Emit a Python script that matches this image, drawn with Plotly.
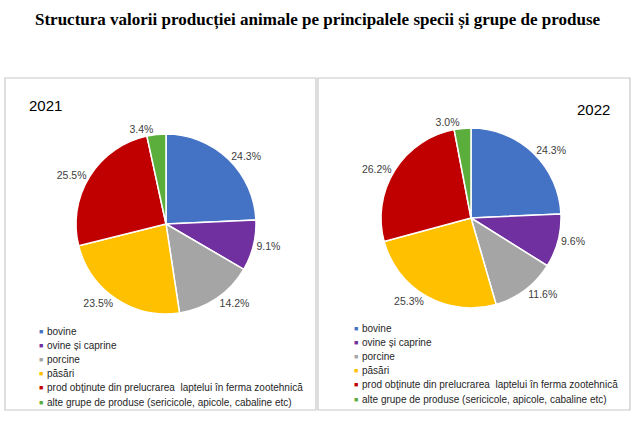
import plotly.graph_objects as go

# categories and shares (%)
categories = [
    'bovine',
    'ovine și caprine',
    'porcine',
    'păsări',
    'prod obţinute din prelucrarea  laptelui în ferma zootehnică',
    'alte grupe de produse (sericicole, apicole, cabaline etc)',
]
shares_2021 = [24.3, 9.1, 14.2, 23.5, 25.5, 3.4]
shares_2022 = [24.3, 9.6, 11.6, 25.3, 26.2, 3.0]
years = ['2021', '2022']

colors = ['#4472C4', '#7030A0', '#A5A5A5', '#FFC000', '#C00000', '#5BAE3C']

W, H = 635, 423
SANS = 'Liberation Sans, Arial, sans-serif'


def px_x(v):
    return v / W


def px_y(v):
    return 1 - v / H


def pie(values, x_px, y_px):
    # x_px / y_px: pixel extents of the pie domain
    return go.Pie(
        labels=categories,
        values=values,
        sort=False,
        direction='clockwise',
        rotation=0,
        marker=dict(colors=colors, line=dict(color='white', width=1.5)),
        texttemplate='%{value:.1f}%',
        textposition='outside',
        textfont=dict(family=SANS, size=10.5, color='#404040'),
        showlegend=False,
        hoverinfo='label+value',
        domain=dict(x=[px_x(x_px[0]), px_x(x_px[1])],
                    y=[px_y(y_px[1]), px_y(y_px[0])]),
    )


fig = go.Figure()
fig.add_trace(pie(shares_2021, (76, 256), (134, 314)))
fig.add_trace(pie(shares_2022, (381, 561), (128, 308)))

annotations = [
    dict(text='<b>Structura valorii producției animale pe principalele specii și grupe de produse</b>',
         x=0.5, y=px_y(20), xref='paper', yref='paper', yanchor='middle', showarrow=False,
         font=dict(family='Liberation Serif, Times New Roman, serif', size=17, color='black')),
    dict(text=years[0], x=px_x(27), y=px_y(105), xref='paper', yref='paper',
         xanchor='left', yanchor='middle', showarrow=False,
         font=dict(family=SANS, size=15, color='black')),
    dict(text=years[1], x=px_x(612), y=px_y(109), xref='paper', yref='paper',
         xanchor='right', yanchor='middle', showarrow=False,
         font=dict(family=SANS, size=15, color='black')),
]

# legend drawn by hand (plotly legend rows are too tall), one per panel
for left, first_row in [(37, 331), (352, 328)]:
    for i, (c, lbl) in enumerate(zip(colors, categories)):
        y = px_y(first_row + i * 14.2)
        annotations.append(dict(
            text='■', x=px_x(left), y=y, xref='paper', yref='paper',
            xanchor='left', yanchor='middle', showarrow=False,
            font=dict(family=SANS, size=7, color=c),
        ))
        annotations.append(dict(
            text=lbl, x=px_x(left + 8), y=y, xref='paper', yref='paper',
            xanchor='left', yanchor='middle', showarrow=False,
            font=dict(family=SANS, size=10, color='#262626'),
        ))

fig.update_layout(
    width=W, height=H,
    margin=dict(l=0, r=0, t=0, b=0),
    paper_bgcolor='white',
    plot_bgcolor='white',
    annotations=annotations,
    shapes=[  # panel borders
        dict(type='rect', xref='paper', yref='paper',
             x0=px_x(5), x1=px_x(316), y0=px_y(410), y1=px_y(78),
             line=dict(color='#C8C8C8', width=1.2)),
        dict(type='rect', xref='paper', yref='paper',
             x0=px_x(318), x1=px_x(630), y0=px_y(410), y1=px_y(78),
             line=dict(color='#C8C8C8', width=1.2)),
    ],
)

# drop the default body margin so the figure fills the window
fig.write_html('out.html', config={'displayModeBar': False},
               post_script="document.body.style.margin = '0';")
